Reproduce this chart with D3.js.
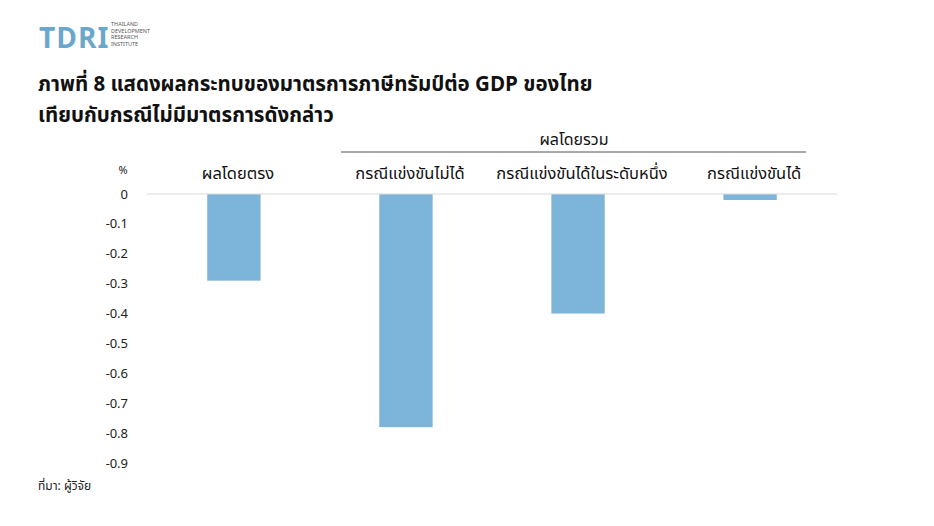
<!DOCTYPE html>
<html><head><meta charset="utf-8">
<script src="https://cdn.jsdelivr.net/npm/d3@7"></script>
<style>body{margin:0;background:#fff}text{font-family:"Noto Sans Thai","Noto Sans",sans-serif}</style>
</head><body><svg id="c" width="934" height="526"></svg>
<script>
const categories=["ผลโดยตรง","กรณีแข่งขันไม่ได้","กรณีแข่งขันได้ในระดับหนึ่ง","กรณีแข่งขันได้"];
const values=[-0.29,-0.78,-0.40,-0.02];
const ticks=[0,-0.1,-0.2,-0.3,-0.4,-0.5,-0.6,-0.7,-0.8,-0.9];
const svg=d3.select("#c");
const x=d3.scaleBand().domain(categories).range([147,837]).paddingInner(0.69).paddingOuter(0.35);
const y=d3.scaleLinear().domain([0,-0.9]).range([194,463]);
svg.append("text").attr("x",39).attr("y",48).attr("font-size",28).attr("font-weight",700).attr("fill","#6ba7cc").attr("letter-spacing",1).text("TDRI");
["THAILAND","DEVELOPMENT","RESEARCH","INSTITUTE"].forEach((t,i)=>svg.append("text").attr("x",111).attr("y",26+i*6.5).attr("font-size",5.5).attr("fill","#555").text(t));
svg.append("text").attr("x",38).attr("y",91).attr("font-size",20.5).attr("font-weight",700).attr("fill","#111").text("ภาพที่ 8 แสดงผลกระทบของมาตรการภาษีทรัมป์ต่อ GDP ของไทย");
svg.append("text").attr("x",38).attr("y",122).attr("font-size",20.5).attr("font-weight",700).attr("fill","#111").text("เทียบกับกรณีไม่มีมาตรการดังกล่าว");
svg.selectAll(".yt").data(ticks).join("text").attr("x",128).attr("y",d=>y(d)+4.5).attr("text-anchor","end").attr("font-size",13).attr("fill","#222").text(d=>d===0?"0":d3.format(".1f")(d));
svg.append("text").attr("x",123).attr("y",174).attr("text-anchor","middle").attr("font-size",11).attr("fill","#222").text("%");
svg.selectAll(".bar").data(values).join("rect").attr("x",(d,i)=>x(categories[i])).attr("width",x.bandwidth()).attr("y",y(0)).attr("height",d=>y(d)-y(0)).attr("fill","#7db4da");
svg.append("line").attr("x1",147).attr("x2",837).attr("y1",y(0)).attr("y2",y(0)).attr("stroke","#d9d9d9");
svg.selectAll(".cl").data(categories).join("text").attr("x",d=>x(d)+x.bandwidth()/2+4).attr("y",179).attr("text-anchor","middle").attr("font-size",16.5).attr("fill","#111").text(d=>d);
svg.append("line").attr("x1",341).attr("x2",806).attr("y1",152).attr("y2",152).attr("stroke","#555");
svg.append("text").attr("x",574).attr("y",145).attr("text-anchor","middle").attr("font-size",16).attr("fill","#111").text("ผลโดยรวม");
svg.append("text").attr("x",38).attr("y",490).attr("font-size",12).attr("fill","#222").text("ที่มา: ผู้วิจัย");
</script></body></html>
